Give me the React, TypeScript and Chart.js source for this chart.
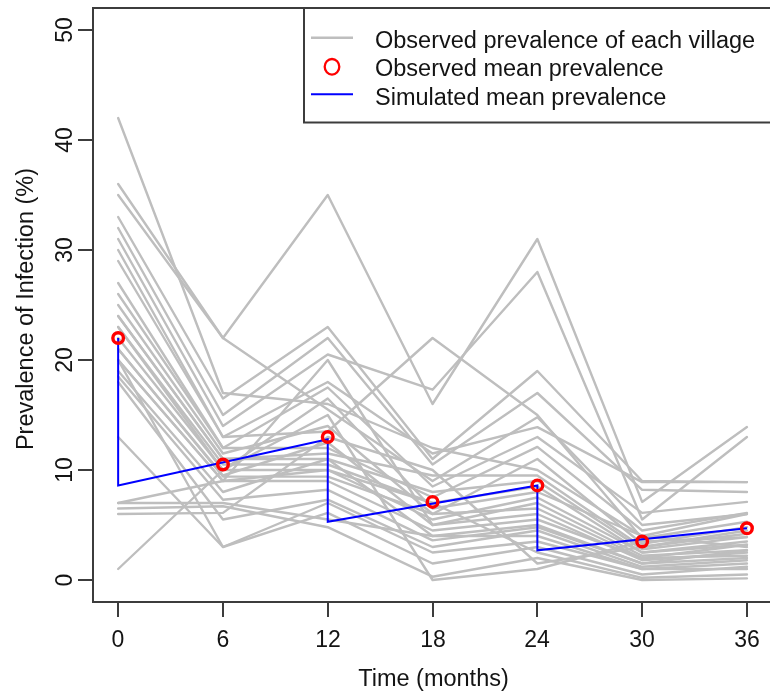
import React, { useEffect, useRef } from "react";
import { Chart, registerables } from "chart.js";

Chart.register(...registerables);

// ---- data ----
const TIMES = [0, 6, 12, 18, 24, 30, 36];

const V01 = [42, 17, 16, 12, 10, 4, 3];
const V02 = [36, 22, 35, 16, 31, 7.1, 13.9];
const V03 = [35, 22, 15.5, 9, 14.8, 5, 6];
const V04 = [33, 16.5, 23, 11, 19, 9, 8.9];
const V05 = [32, 15, 22, 10.5, 17, 8.2, 8];
const V06 = [31, 14, 20.5, 17.3, 28, 5.5, 13];
const V07 = [30, 13, 13.5, 22, 15, 3.8, 5.3];
const V08 = [29, 13, 18, 11.5, 13.9, 8.9, 8.9];
const V09 = [27, 12, 17.5, 8.5, 13, 6.1, 7.1];
const V10 = [26, 12, 12, 7.5, 12.1, 4.5, 6.1];
const V11 = [25, 11.5, 14, 6, 11, 3.3, 4.8];
const V12 = [24, 11, 11.5, 9.5, 9.5, 3, 4.5];
const V13 = [24, 11, 11, 8, 9, 2.8, 3.9];
const V14 = [23, 10.5, 10.5, 7, 8.5, 2.5, 3.5];
const V15 = [23, 10, 16.5, 6.5, 8, 4, 6];
const V16 = [22, 10, 10, 5.5, 7.5, 2.5, 3.2];
const V17 = [21, 9.5, 12.5, 5, 7, 2.2, 2.7];
const V18 = [21, 9.4, 9.4, 6, 6.5, 2, 3.2];
const V19 = [20, 9, 20, 5, 6, 1.8, 2.5];
const V20 = [20, 9, 9, 4.5, 5.5, 2, 2.2];
const V21 = [19, 8, 11, 4, 5, 1.5, 2.7];
const V22 = [18.5, 7.3, 8.2, 3.6, 4.8, 1.5, 2];
const V23 = [18, 5.5, 7.3, 3, 4.5, 1.2, 1.8];
const V24 = [13, 3, 7, 2.5, 3.5, 1, 1.5];
const V25 = [20, 3, 6.1, 1.5, 3, 0.5, 1.2];
const V26 = [7, 7, 5.5, 4, 4, 1, 1];
const V27 = [7, 9, 10, 7, 2.5, 0.2, 0.5];
const V28 = [6.5, 6.7, 4.8, 0.3, 2, 0, 0.15];
const V29 = [6, 6.1, 13, 10, 1.5, 3, 4.2];
const V30 = [1, 10, 15, 0, 1, 3.5, 3.9];

const VILLAGES = [
  V01, V02, V03, V04, V05, V06, V07, V08, V09, V10,
  V11, V12, V13, V14, V15, V16, V17, V18, V19, V20,
  V21, V22, V23, V24, V25, V26, V27, V28, V29, V30,
];

const OBS_MEAN = [22, 10.5, 13, 7.1, 8.6, 3.5, 4.7];

const SIM_TIMES = [0, 0, 12, 12, 24, 24, 36];
const SIM_VALUES = [22, 8.6, 12.8, 5.3, 8.6, 2.7, 4.7];

const X_TICKS = [0, 6, 12, 18, 24, 30, 36];
const Y_TICKS = [0, 10, 20, 30, 40, 50];

const X_TITLE = "Time (months)";
const Y_TITLE = "Prevalence of Infection (%)";
const LEGEND_LABELS = [
  "Observed prevalence of each village",
  "Observed mean prevalence",
  "Simulated mean prevalence",
];

const GRAY = "#bebebe";
const RED = "#ff0000";
const BLUE = "#0000ff";
const INK = "#141414";
const FRAME = "#3c3c3c";
const FONT = "'Liberation Sans', Arial, Helvetica, sans-serif";

const framePlugin = {
  id: "rframe",
  afterDraw(chart: any) {
    const ctx = chart.ctx as CanvasRenderingContext2D;
    const area = chart.chartArea;
    const xs = chart.scales.x;
    const ys = chart.scales.y;
    ctx.save();

    // box
    ctx.strokeStyle = FRAME;
    ctx.lineWidth = 2;
    ctx.beginPath();
    ctx.moveTo(area.right + 2, area.top);
    ctx.lineTo(area.left, area.top);
    ctx.lineTo(area.left, area.bottom);
    ctx.lineTo(area.right + 2, area.bottom);
    ctx.stroke();

    // x ticks
    ctx.fillStyle = INK;
    ctx.font = `23px ${FONT}`;
    ctx.textAlign = "center";
    ctx.textBaseline = "alphabetic";
    for (const t of X_TICKS) {
      const px = Math.round(xs.getPixelForValue(t));
      ctx.beginPath();
      ctx.moveTo(px, area.bottom);
      ctx.lineTo(px, area.bottom + 15);
      ctx.stroke();
      ctx.fillText(String(t), px, 647);
    }

    // y ticks
    for (const v of Y_TICKS) {
      const py = Math.round(ys.getPixelForValue(v));
      ctx.beginPath();
      ctx.moveTo(area.left, py);
      ctx.lineTo(area.left - 15, py);
      ctx.stroke();
      ctx.save();
      ctx.translate(72, py);
      ctx.rotate(-Math.PI / 2);
      ctx.textAlign = "center";
      ctx.textBaseline = "alphabetic";
      ctx.fillText(String(v), 0, 0);
      ctx.restore();
    }

    // titles
    ctx.font = `23.5px ${FONT}`;
    ctx.textAlign = "center";
    ctx.fillText(X_TITLE, (area.left + area.right) / 2 + 2, 686);
    ctx.save();
    ctx.translate(33, (area.top + area.bottom) / 2 + 4);
    ctx.rotate(-Math.PI / 2);
    ctx.fillText(Y_TITLE, 0, 0);
    ctx.restore();

    // legend
    const lx = 304;
    const ly = area.top;
    const lb = 122.5;
    ctx.fillStyle = "#ffffff";
    ctx.fillRect(lx, ly, area.right + 4 - lx, lb - ly);
    ctx.strokeStyle = FRAME;
    ctx.lineWidth = 2;
    ctx.beginPath();
    ctx.moveTo(area.right + 4, ly);
    ctx.lineTo(lx, ly);
    ctx.lineTo(lx, lb);
    ctx.lineTo(area.right + 4, lb);
    ctx.stroke();

    const symY = [37.7, 66.8, 94.3];
    const textY = [47.5, 76, 104.7];
    // gray line
    ctx.strokeStyle = GRAY;
    ctx.lineWidth = 2.4;
    ctx.beginPath();
    ctx.moveTo(311, symY[0]);
    ctx.lineTo(353, symY[0]);
    ctx.stroke();
    // red circle
    ctx.strokeStyle = RED;
    ctx.lineWidth = 2.3;
    ctx.beginPath();
    ctx.ellipse(332, symY[1], 7.3, 7.8, 0, 0, Math.PI * 2);
    ctx.stroke();
    // blue line
    ctx.strokeStyle = BLUE;
    ctx.lineWidth = 2;
    ctx.beginPath();
    ctx.moveTo(311, symY[2]);
    ctx.lineTo(353, symY[2]);
    ctx.stroke();

    ctx.fillStyle = INK;
    ctx.font = `23.5px ${FONT}`;
    ctx.textAlign = "left";
    ctx.textBaseline = "alphabetic";
    LEGEND_LABELS.forEach((s, i) => ctx.fillText(s, 375, textY[i]));

    ctx.restore();
  },
};

export default function App() {
  const ref = useRef<HTMLCanvasElement | null>(null);

  useEffect(() => {
    document.body.style.margin = "0";
    const canvas = ref.current;
    if (!canvas) return;

    const villageSets = VILLAGES.map((vals, i) => ({
      label: `village ${i + 1}`,
      data: TIMES.map((t, j) => ({ x: t, y: vals[j] })),
      showLine: true,
      borderColor: GRAY,
      backgroundColor: GRAY,
      borderWidth: 2.4,
      pointRadius: 0,
      borderCapStyle: "round" as const,
      borderJoinStyle: "round" as const,
      order: 2,
    }));

    const chart = new Chart(canvas, {
      type: "scatter",
      data: {
        datasets: [
          {
            label: "Observed mean prevalence",
            data: TIMES.map((t, j) => ({ x: t, y: OBS_MEAN[j] })),
            showLine: false,
            pointStyle: "circle",
            pointRadius: 5.3,
            borderWidth: 3.4,
            borderColor: RED,
            backgroundColor: "rgba(0,0,0,0)",
            order: 0,
          },
          {
            label: "Simulated mean prevalence",
            data: SIM_TIMES.map((t, j) => ({ x: t, y: SIM_VALUES[j] })),
            showLine: true,
            borderColor: BLUE,
            backgroundColor: BLUE,
            borderWidth: 2,
            pointRadius: 0,
            order: 1,
          },
          ...villageSets,
        ] as any,
      },
      options: {
        responsive: false,
        animation: false,
        events: [],
        layout: { autoPadding: false, padding: { left: 93, top: 8, right: 0, bottom: 92 } },
        scales: {
          x: { type: "linear", min: -1.44, max: 37.32, display: false },
          y: { type: "linear", min: -2, max: 52, display: false },
        },
        plugins: {
          legend: { display: false },
          tooltip: { enabled: false },
        },
      },
      plugins: [framePlugin],
    });

    return () => chart.destroy();
  }, []);

  return (
    <div style={{ width: 770, height: 694, background: "#fff" }}>
      <canvas ref={ref} width={770} height={694} style={{ display: "block" }} />
    </div>
  );
}
